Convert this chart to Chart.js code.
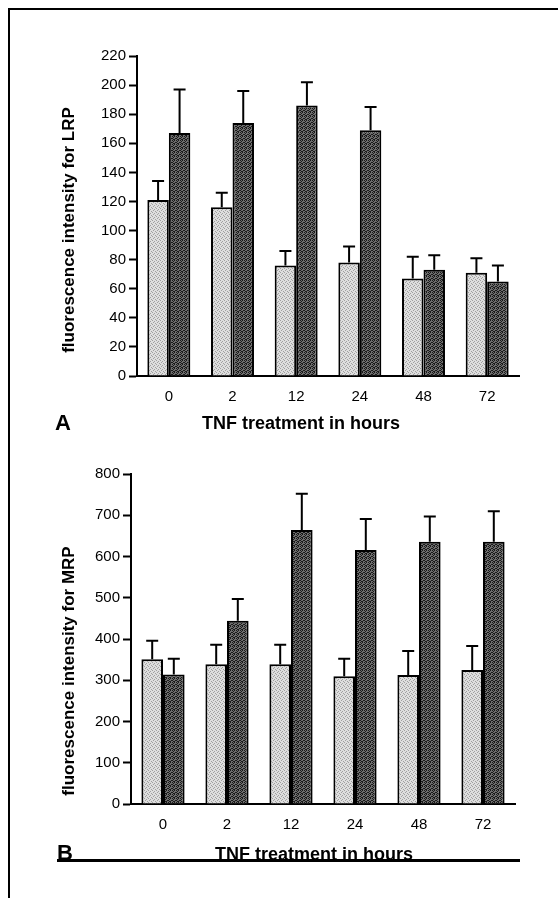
<!DOCTYPE html>
<html>
<head>
<meta charset="utf-8">
<script src="https://cdn.jsdelivr.net/npm/chart.js@4/dist/chart.umd.min.js"></script>
<style>
  html, body { margin: 0; padding: 0; background: #fff; }
  #page { position: relative; width: 558px; height: 898px; overflow: hidden; }
  canvas { position: absolute; left: 0; }
  #frame { position: absolute; left: 8px; top: 8px; width: 560px; height: 900px;
           border-top: 2px solid #000; border-left: 2px solid #000; }
  #rule { position: absolute; left: 57px; top: 859px; width: 463px; height: 0;
          border-top: 3px solid #000; }
</style>
</head>
<body>
<div id="page">
  <div id="frame"></div>
  <canvas id="chartA" width="558" height="450" style="top:0"></canvas>
  <canvas id="chartB" width="558" height="448" style="top:450px"></canvas>
  <div id="rule"></div>
</div>
<script>
// TNF treatment time points (hours)
const hours = ["0", "2", "12", "24", "48", "72"];

// panel A: LRP
const lrpControl = [121, 116, 76, 78, 67, 71];
const lrpControlErr = [13, 10, 10, 11, 15, 10];
const lrpTnf = [167, 174, 186, 169, 73, 65];
const lrpTnfErr = [30, 22, 16, 16, 10, 11];

// panel B: MRP
const mrpControl = [351, 339, 339, 310, 313, 325];
const mrpControlErr = [45, 47, 47, 42, 58, 58];
const mrpTnf = [314, 444, 664, 616, 636, 636];
const mrpTnfErr = [38, 53, 88, 75, 61, 74];

Chart.defaults.font.family = "'Liberation Sans', Arial, sans-serif";
Chart.defaults.color = "#000";

// stipple fill like the scanned print
function stipple(base, dot, cells) {
  const c = document.createElement("canvas");
  c.width = 4; c.height = 4;
  const g = c.getContext("2d");
  g.fillStyle = base; g.fillRect(0, 0, 4, 4);
  g.fillStyle = dot;
  cells.forEach(([x, y]) => g.fillRect(x, y, 1, 1));
  return g.createPattern(c, "repeat");
}
const lightFill = stipple("#dedede", "#a0a0a0", [[0, 0], [2, 1], [1, 2], [3, 3]]);
const darkFill = stipple("#6e6e6e", "#1a1a1a", [[0, 0], [2, 0], [1, 1], [3, 2], [0, 2], [2, 3], [1, 3]]);

const errorBars = {
  id: "errorBars",
  afterDatasetsDraw(chart, args, opts) {
    const ctx = chart.ctx, ys = chart.scales.y;
    ctx.save();
    ctx.strokeStyle = "#000";
    ctx.lineWidth = 2;
    chart.data.datasets.forEach((ds, i) => {
      chart.getDatasetMeta(i).data.forEach((bar, j) => {
        const top = ys.getPixelForValue(ds.data[j] + ds.err[j]);
        ctx.beginPath();
        ctx.moveTo(bar.x, bar.y);
        ctx.lineTo(bar.x, top);
        ctx.moveTo(bar.x - 6, top);
        ctx.lineTo(bar.x + 6, top);
        ctx.stroke();
      });
    });
    ctx.restore();
  }
};

const labels = {
  id: "labels",
  afterDraw(chart, args, o) {
    const ctx = chart.ctx;
    ctx.save();
    ctx.fillStyle = "#000";
    ctx.font = "bold 17px 'Liberation Sans', Arial, sans-serif";
    ctx.textAlign = "center";
    ctx.textBaseline = "middle";
    ctx.translate(o.yTitleX, o.yTitleY);
    ctx.rotate(-Math.PI / 2);
    ctx.fillText(o.yTitle, 0, 0);
    ctx.restore();

    ctx.save();
    ctx.fillStyle = "#000";
    ctx.textBaseline = "alphabetic";
    ctx.font = "bold 18px 'Liberation Sans', Arial, sans-serif";
    ctx.textAlign = "center";
    ctx.fillText(o.xTitle, o.xTitleX, o.xTitleY);
    ctx.font = "bold 22px 'Liberation Sans', Arial, sans-serif";
    ctx.textAlign = "left";
    ctx.fillText(o.panel, o.panelX, o.panelY);
    ctx.restore();
  }
};

function makeChart(id, ctrl, ctrlErr, tnf, tnfErr, max, step, box, text) {
  return new Chart(document.getElementById(id), {
    type: "bar",
    data: {
      labels: hours,
      datasets: [
        { label: "control", data: ctrl, err: ctrlErr, backgroundColor: lightFill,
          borderColor: "#000", borderWidth: 2, borderSkipped: "bottom" },
        { label: "TNF", data: tnf, err: tnfErr, backgroundColor: darkFill,
          borderColor: "#000", borderWidth: 2, borderSkipped: "bottom" },
      ],
    },
    options: {
      responsive: false,
      animation: false,
      categoryPercentage: 0.675,
      barPercentage: 1,
      layout: { padding: { top: box.top, right: box.right, left: 0, bottom: 0 } },
      plugins: { legend: { display: false }, tooltip: { enabled: false }, labels: text },
      scales: {
        x: {
          grid: { display: false, drawTicks: false },
          border: { color: "#000", width: 2 },
          ticks: { font: { size: 15 }, padding: 12, color: "#000" },
          afterFit: (s) => { s.height = box.xh; },
        },
        y: {
          min: 0, max: max,
          grid: { drawOnChartArea: false, drawTicks: true, tickLength: 8, tickColor: "#000", tickWidth: 2 },
          border: { color: "#000", width: 2 },
          ticks: { stepSize: step, font: { size: 15 }, padding: 3, color: "#000" },
          afterFit: (s) => { s.width = box.yw; },
        },
      },
    },
    plugins: [errorBars, labels],
  });
}

makeChart("chartA", lrpControl, lrpControlErr, lrpTnf, lrpTnfErr, 220, 20,
  { top: 56, right: 39, xh: 74, yw: 137 },
  { yTitle: "fluorescence intensity for LRP", yTitleX: 69, yTitleY: 230,
    xTitle: "TNF treatment in hours", xTitleX: 301, xTitleY: 429,
    panel: "A", panelX: 55, panelY: 430 });

makeChart("chartB", mrpControl, mrpControlErr, mrpTnf, mrpTnfErr, 800, 100,
  { top: 24, right: 43, xh: 94, yw: 131 },
  { yTitle: "fluorescence intensity for MRP", yTitleX: 69, yTitleY: 221,
    xTitle: "TNF treatment in hours", xTitleX: 314, xTitleY: 410,
    panel: "B", panelX: 57, panelY: 410 });
</script>
</body>
</html>
